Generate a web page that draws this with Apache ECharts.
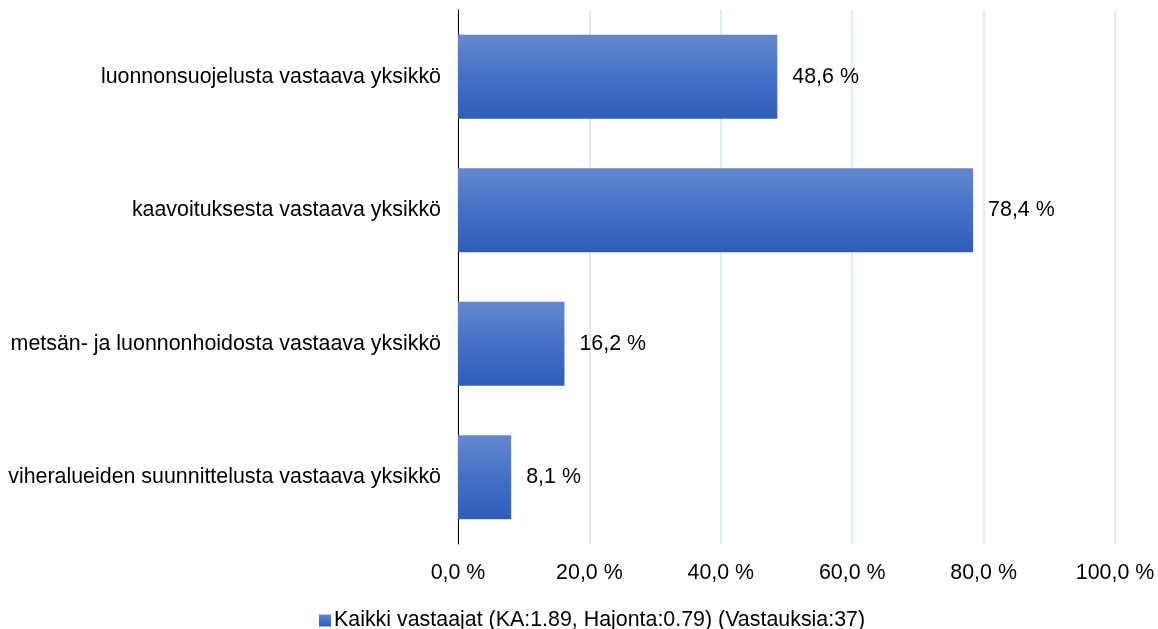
<!DOCTYPE html>
<html>
<head>
<meta charset="utf-8">
<script src="https://cdn.jsdelivr.net/npm/echarts@6/dist/echarts.min.js"></script>
<style>
html,body{margin:0;padding:0;background:#fff;}
#chart{width:1158px;height:629px;}
</style>
</head>
<body>
<div id="chart"></div>
<script>
var categories = ['luonnonsuojelusta vastaava yksikkö', 'kaavoituksesta vastaava yksikkö', 'metsän- ja luonnonhoidosta vastaava yksikkö', 'viheralueiden suunnittelusta vastaava yksikkö'];
var values = [48.6, 78.4, 16.2, 8.1];
var seriesName = 'Kaikki vastaajat (KA:1.89, Hajonta:0.79) (Vastauksia:37)';

var chart = echarts.init(document.getElementById('chart'));
var fmt = function(v){ return v.toFixed(1).replace('.', ',') + ' %'; };
var option = {
    textStyle: { fontFamily: 'Liberation Sans, Arial, sans-serif', fontSize: 21.4, color: '#000' },
    grid: { left: 458, right: 43, top: 10, bottom: 85 },
    legend: {
        top: 610,
        left: 319,
        padding: 0,
        itemWidth: 12,
        itemHeight: 12,
        icon: 'rect',
        itemGap: 0,
        textStyle: { fontSize: 21.4, color: '#000', padding: [0, 0, 0, -2] },
        data: [seriesName]
    },
    xAxis: {
        type: 'value',
        min: 0,
        max: 100,
        interval: 20,
        axisLine: { show: false },
        axisTick: { show: false },
        axisLabel: { formatter: fmt, fontSize: 21.4, color: '#000', margin: 19 },
        splitLine: { lineStyle: { color: '#e3ebf6', width: 2 } }
    },
    yAxis: {
        type: 'category',
        inverse: true,
        data: categories,
        axisLine: { lineStyle: { color: '#000', width: 1 } },
        axisTick: { show: false },
        axisLabel: { fontSize: 21.4, color: '#000', margin: 17 }
    },
    series: [{
        name: seriesName,
        type: 'bar',
        data: values,
        barCategoryGap: '37%',
        itemStyle: {
            color: new echarts.graphic.LinearGradient(0, 0, 0, 1, [
                { offset: 0, color: '#6587cf' },
                { offset: 0.5, color: '#4471c6' },
                { offset: 1, color: '#2e5db8' }
            ])
        },
        label: {
            show: true,
            position: 'right',
            distance: 15,
            fontSize: 21.4,
            color: '#000',
            formatter: function(p){ return fmt(p.value); }
        }
    }]
};
chart.setOption(option);
</script>
</body>
</html>
